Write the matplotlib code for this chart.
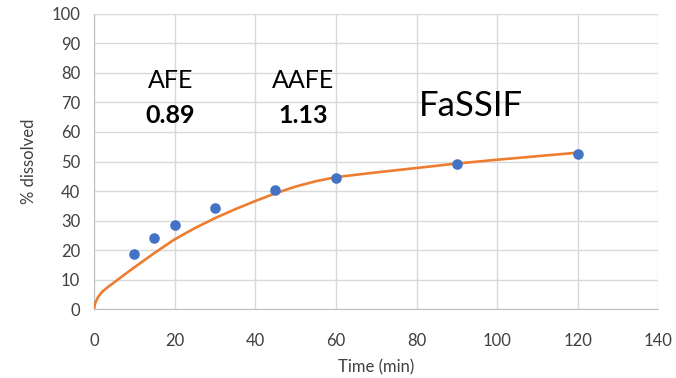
import matplotlib
matplotlib.use('Agg')
import matplotlib.pyplot as plt
import numpy as np

# Observed dissolution data (blue points)
obs_time = [10, 15, 20, 30, 45, 60, 90, 120]
obs_pct = [18.6, 24.1, 28.4, 34.4, 40.4, 44.3, 49.3, 52.4]

# Simulated curve (orange)
sim_time = [0, 0.3, 1, 2, 3.5, 5, 7.5, 10, 15, 20, 25, 30, 35, 40, 45, 50, 55, 60,
            70, 80, 90, 100, 110, 120]
sim_pct = [0, 2.0, 4.0, 5.8, 7.5, 9.0, 11.6, 14.1, 19.0, 23.6, 27.4, 30.8, 33.8,
           36.6, 39.2, 41.5, 43.3, 44.7, 46.3, 47.8, 49.3, 50.6, 51.8, 53.0]

x_ticks = [0, 20, 40, 60, 80, 100, 120, 140]
y_ticks = [0, 10, 20, 30, 40, 50, 60, 70, 80, 90, 100]

plt.rcParams['font.family'] = ['Lato', 'DejaVu Sans']

grid_col = '#d9d9d9'
axis_col = '#bfbfbf'

fig = plt.figure(figsize=(6.76, 3.78), dpi=100)
ax = fig.add_axes([0.139, 0.1825, 0.835, 0.7805])

ax.plot(sim_time, sim_pct, color='#ED7D31', lw=1.9, zorder=3)
ax.scatter(obs_time, obs_pct, s=58, color='#4472C4', zorder=4, linewidths=0)

ax.set_xlim(0, 140)
ax.set_ylim(0, 100)
ax.set_xticks(x_ticks)
ax.set_yticks(y_ticks)
ax.grid(color=grid_col, linewidth=1.0, zorder=0)
ax.set_axisbelow(True)
for s in ['top', 'right']:
    ax.spines[s].set_visible(False)
for s in ['left', 'bottom']:
    ax.spines[s].set_color(axis_col)
ax.tick_params(axis='both', length=0, labelsize=12, colors='#404040')
ax.tick_params(axis='x', pad=17)
ax.tick_params(axis='y', pad=10)

ax.set_xlabel('Time (min)', fontsize=12, color='#404040', labelpad=8)
ax.set_ylabel('% dissolved', fontsize=12, color='#404040', labelpad=10)

# annotations
ax.text(19, 77.5, 'AFE', fontsize=18, ha='center', va='center', color='black')
ax.text(19, 65.5, '0.89', fontsize=18, ha='center', va='center', fontweight='bold', color='black')
ax.text(51.8, 77.5, 'AAFE', fontsize=18, ha='center', va='center', color='black')
ax.text(51.8, 65.5, '1.13', fontsize=18, ha='center', va='center', fontweight='bold', color='black')
ax.text(93.5, 68.8, 'FaSSIF', fontsize=25, ha='center', va='center', color='black')

fig.savefig('out.png', dpi=100)
